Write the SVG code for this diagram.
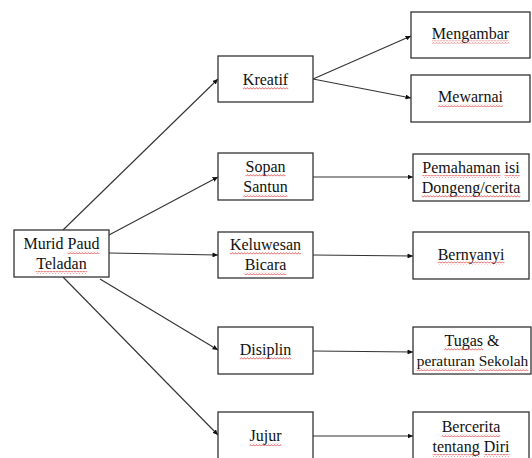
<svg xmlns="http://www.w3.org/2000/svg" width="532" height="458" viewBox="0 0 532 458">
<style>
.box{fill:#fff;stroke:#333;stroke-width:1.3}
.t{font-family:"Liberation Serif","Times New Roman",serif;font-size:16px;fill:#111;text-anchor:middle}
.sq{fill:url(#wave)}
.c{fill:none;stroke:#333;stroke-width:1.1;marker-end:url(#ah)}
</style>
<defs>
<marker id="ah" markerUnits="userSpaceOnUse" markerWidth="6" markerHeight="5" refX="5.5" refY="2.5" orient="auto">
<path d="M0,0 L5.5,2.5 L0,5 z" fill="#111"/>
</marker>
<pattern id="wave" patternUnits="userSpaceOnUse" x="0" y="0" width="3" height="3">
<polyline points="0,2.4 1.5,0.6 3,2.4" fill="none" stroke="#e04040" stroke-width="0.8"/>
</pattern>
</defs>
<rect width="532" height="458" fill="#fff"/>
<g id="connectors">
<line class="c" x1="63" y1="230" x2="218" y2="79"/>
<line class="c" x1="109" y1="235" x2="218" y2="177"/>
<line class="c" x1="109" y1="253" x2="218" y2="255"/>
<line class="c" x1="100" y1="279" x2="218" y2="350"/>
<line class="c" x1="63" y1="277" x2="218" y2="435"/>
<line class="c" x1="313" y1="79" x2="411" y2="36"/>
<line class="c" x1="313" y1="79" x2="411" y2="98"/>
<line class="c" x1="313" y1="177" x2="413" y2="177"/>
<line class="c" x1="313" y1="255" x2="413" y2="256"/>
<line class="c" x1="313" y1="351" x2="413" y2="352"/>
<line class="c" x1="313" y1="436" x2="413" y2="436"/>
</g>
<g id="murid">
<rect class="box" x="14" y="230" width="95" height="47"/>
<text class="t" x="61.5" y="249">Murid Paud</text>
<text class="t" x="61.5" y="269">Teladan</text>
<rect class="sq" x="67.5" y="251" width="32" height="3"/>
<rect class="sq" x="35.7" y="271" width="51.5" height="3"/>
</g>
<g id="kreatif">
<rect class="box" x="218" y="56" width="95" height="46"/>
<text class="t" x="265.5" y="85">Kreatif</text>
<rect class="sq" x="242.9" y="87" width="45.3" height="3"/>
</g>
<g id="sopan">
<rect class="box" x="218" y="153" width="95" height="47"/>
<text class="t" x="265.5" y="172">Sopan</text>
<text class="t" x="265.5" y="192">Santun</text>
<rect class="sq" x="245.5" y="174" width="40" height="3"/>
<rect class="sq" x="243.3" y="194" width="44.4" height="3"/>
</g>
<g id="keluwesan">
<rect class="box" x="218" y="232" width="95" height="46"/>
<text class="t" x="265.5" y="250">Keluwesan</text>
<text class="t" x="265.5" y="270">Bicara</text>
<rect class="sq" x="230" y="252" width="71.1" height="3"/>
<rect class="sq" x="244.6" y="272" width="41.8" height="3"/>
</g>
<g id="disiplin">
<rect class="box" x="218" y="327" width="95" height="47"/>
<text class="t" x="265.5" y="355">Disiplin</text>
<rect class="sq" x="239.7" y="357" width="51.6" height="3"/>
</g>
<g id="jujur">
<rect class="box" x="218" y="412" width="95" height="50"/>
<text class="t" x="265.5" y="441">Jujur</text>
<rect class="sq" x="249.5" y="443" width="32" height="3"/>
</g>
<g id="mengambar">
<rect class="box" x="411" y="12" width="119" height="46"/>
<text class="t" x="470.5" y="38.5">Mengambar</text>
<rect class="sq" x="431.9" y="40.5" width="77.3" height="3"/>
</g>
<g id="mewarnai">
<rect class="box" x="411" y="75" width="119" height="47"/>
<text class="t" x="470.5" y="102">Mewarnai</text>
<rect class="sq" x="438" y="104" width="64.9" height="3"/>
</g>
<g id="pemahaman">
<rect class="box" x="413" y="154" width="116" height="47"/>
<text class="t" x="471" y="173">Pemahaman isi</text>
<text class="t" x="471" y="193">Dongeng/cerita</text>
<rect class="sq" x="422.3" y="175" width="78.2" height="3"/>
<rect class="sq" x="504.5" y="175" width="15.1" height="3"/>
<rect class="sq" x="421.7" y="195" width="98.6" height="3"/>
</g>
<g id="bernyanyi">
<rect class="box" x="413" y="232" width="116" height="47"/>
<text class="t" x="471" y="259.5">Bernyanyi</text>
<rect class="sq" x="437.7" y="261.5" width="66.7" height="3"/>
</g>
<g id="tugas">
<rect class="box" x="413" y="327" width="118" height="47"/>
<text class="t" x="472" y="346">Tugas &amp;</text>
<text class="t" x="472.5" y="366" style="font-size:15.4px">peraturan Sekolah</text>
<rect class="sq" x="444.2" y="348" width="39.1" height="3"/>
<rect class="sq" x="416.7" y="368" width="58.2" height="3"/>
<rect class="sq" x="478.7" y="368" width="49.7" height="3"/>
</g>
<g id="bercerita">
<rect class="box" x="413" y="412" width="116" height="50"/>
<text class="t" x="471" y="432">Bercerita</text>
<text class="t" x="471" y="452">tentang Diri</text>
<rect class="sq" x="441.7" y="434" width="58.6" height="3"/>
<rect class="sq" x="432.6" y="454" width="47.1" height="3"/>
<rect class="sq" x="483.7" y="454" width="25.8" height="3"/>
</g>
</svg>
